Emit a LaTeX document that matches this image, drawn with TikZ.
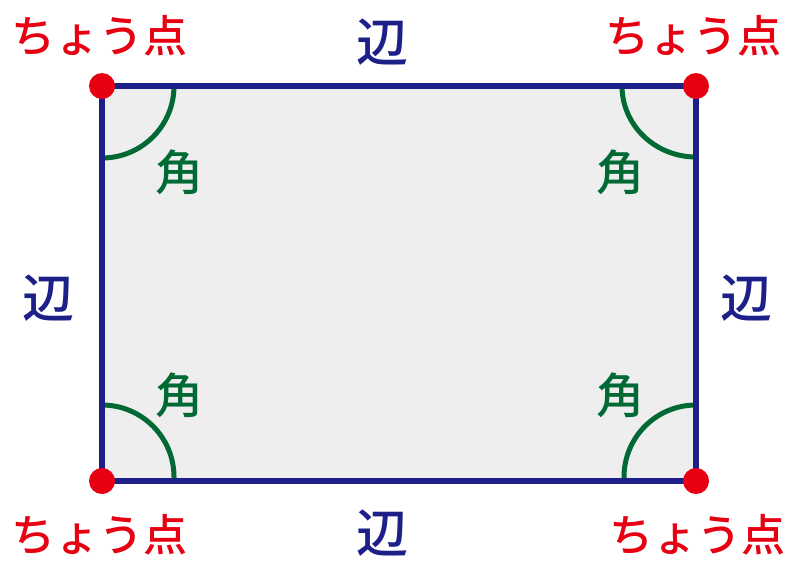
\documentclass[tikz,border=0pt]{standalone}
\usepackage{fontspec}
\newfontfamily\cjk{Noto Sans CJK JP}[UprightFont=* Medium]
\definecolor{navy}{HTML}{1D2088}
\definecolor{vred}{HTML}{E60012}
\definecolor{vgreen}{HTML}{006934}
\definecolor{fillg}{HTML}{EEEEEE}
\begin{document}
\begin{tikzpicture}[x=1pt,y=-1pt,
  lbl/.style={font=\cjk\fontsize{44}{48}\selectfont, inner sep=0pt},
  vlbl/.style={lbl, text=vred},
  elbl/.style={lbl, text=navy, font=\cjk\fontsize{52}{56}\selectfont},
  albl/.style={lbl, text=vgreen, font=\cjk\fontsize{48}{52}\selectfont},
  anglearc/.style={draw=vgreen, line width=5pt},
  edge/.style={draw=navy, line width=6.5pt},
  vdot/.style={circle, fill=vred, minimum size=26pt, inner sep=0pt}]
\useasboundingbox (0,0) rectangle (789,563);
\coordinate (tl) at (102,86);
\coordinate (tr) at (696,86);
\coordinate (bl) at (102,481);
\coordinate (br) at (696,481);
\fill[fillg] (tl) rectangle (br);
% angle arcs
\draw[anglearc] ([yshift=-72pt]tl) arc[start angle=-90, end angle=0, radius=72pt];
\draw[anglearc] ([xshift=-74pt]tr) arc[start angle=180, end angle=270, x radius=74pt, y radius=71pt];
\draw[anglearc] ([yshift=76pt]bl) arc[start angle=90, end angle=0, radius=72pt] -- ++(0,5);
\draw[anglearc] ([yshift=76pt]br) arc[start angle=90, end angle=180, radius=72pt] -- ++(0,5);
% edges
\draw[edge, line join=miter] (tl) -- (tr) -- (br) -- (bl) -- cycle;
% vertices
\node[vdot] (vtl) at (tl) {};
\node[vdot] (vtr) at (tr) {};
\node[vdot] (vbl) at (bl) {};
\node[vdot] (vbr) at (br) {};
% labels
\node[vlbl] (ltl) at (99,36) {ちょう点};
\node[vlbl] (ltr) at (693,36) {ちょう点};
\node[vlbl] (lbl) at (99,535) {ちょう点};
\node[vlbl] (lbr) at (697,535) {ちょう点};
\node[elbl] (et) at (382,42) {辺};
\node[elbl] (eb) at (382,533) {辺};
\node[elbl] (el) at (48,298) {辺};
\node[elbl] (er) at (746,298) {辺};
\node[albl] (a1) at (179,172) {角};
\node[albl] (a2) at (620,172) {角};
\node[albl] (a3) at (179,395) {角};
\node[albl] (a4) at (620,395) {角};
\end{tikzpicture}
\end{document}
